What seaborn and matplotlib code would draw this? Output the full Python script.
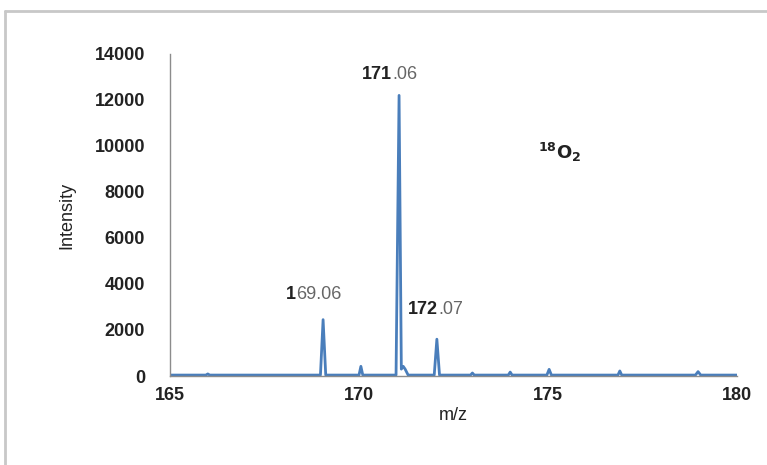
import matplotlib
matplotlib.use("Agg")
import matplotlib.pyplot as plt
import seaborn as sns
import pandas as pd
from matplotlib.lines import Line2D

# ---- data ----
mz = [165.0, 165.95, 166.0, 166.05, 168.98, 169.05, 169.12, 170.0, 170.05, 170.1,
      170.98, 171.06, 171.12, 171.17, 171.22, 171.3, 171.99, 172.06, 172.13, 172.95,
      173.0, 173.05, 173.95, 174.0, 174.05, 174.97, 175.03, 175.09, 176.85, 176.9,
      176.95, 178.9, 178.97, 179.04, 180.0]
intensity = [40, 40, 90, 40, 40, 2450, 40, 40, 420, 40,
             40, 12200, 300, 420, 300, 40, 40, 1600, 40, 40,
             130, 40, 40, 170, 40, 40, 290, 40, 40, 220,
             40, 40, 190, 40, 40]
x_ticks = [165, 170, 175, 180]
y_ticks = [0, 2000, 4000, 6000, 8000, 10000, 12000, 14000]
peak_labels = [("171", ".06", 170.87, 13087),
               ("1", "69.06", 168.33, 3522),
               ("172", ".07", 172.09, 2870)]

df = pd.DataFrame({"m/z": mz, "Intensity": intensity})

sns.set_style("white")
plt.rcParams["font.family"] = ["Liberation Sans", "DejaVu Sans"]

fig = plt.figure(figsize=(7.67, 4.65), dpi=100)
ax = fig.add_axes([170/767, 1-376/465, (737-170)/767, (376-54)/465])

sns.lineplot(data=df, x="m/z", y="Intensity", ax=ax, color="#4a7ebb",
             linewidth=2.0, estimator=None, sort=False)

ax.set_xlim(165, 180)
ax.set_ylim(0, 14000)
ax.set_xticks(x_ticks)
ax.set_yticks(y_ticks)
ax.set_xticklabels([str(t) for t in x_ticks], fontsize=13, fontweight="bold", color="#222222")
ax.set_yticklabels([str(t) for t in y_ticks], fontsize=13, fontweight="bold", color="#222222")
for s in ["top", "right"]:
    ax.spines[s].set_visible(False)
for s in ["left", "bottom"]:
    ax.spines[s].set_color("#8c8c8c")
    ax.spines[s].set_linewidth(1.0)
ax.tick_params(axis="y", direction="out", length=5, color="#8c8c8c", width=1, pad=13)
ax.tick_params(axis="x", direction="inout", length=8, color="#8c8c8c", width=1, pad=4)
ax.set_xlabel("m/z", fontsize=13, color="#222222", labelpad=2)
ax.set_ylabel("Intensity", fontsize=13, color="#222222", labelpad=14)

for bold, rest, x, y in peak_labels:
    ax.text(x, y, bold, ha="right", va="center", fontsize=13, fontweight="bold", color="#222222")
    ax.text(x, y, rest, ha="left", va="center", fontsize=13, color="#666666")

ax.text(175.3, 9700, r"$\mathbf{^{18}O_2}$", ha="center", va="center", fontsize=13, color="#222222")

# outer chart border (Excel-like frame)
fig.add_artist(Line2D([5/767, 5/767], [0, 1-11/465], transform=fig.transFigure,
                      color="#c8c8c8", linewidth=2))
fig.add_artist(Line2D([5/767, 1], [1-11/465, 1-11/465], transform=fig.transFigure,
                      color="#c8c8c8", linewidth=2))

fig.savefig("out.png", dpi=100)
